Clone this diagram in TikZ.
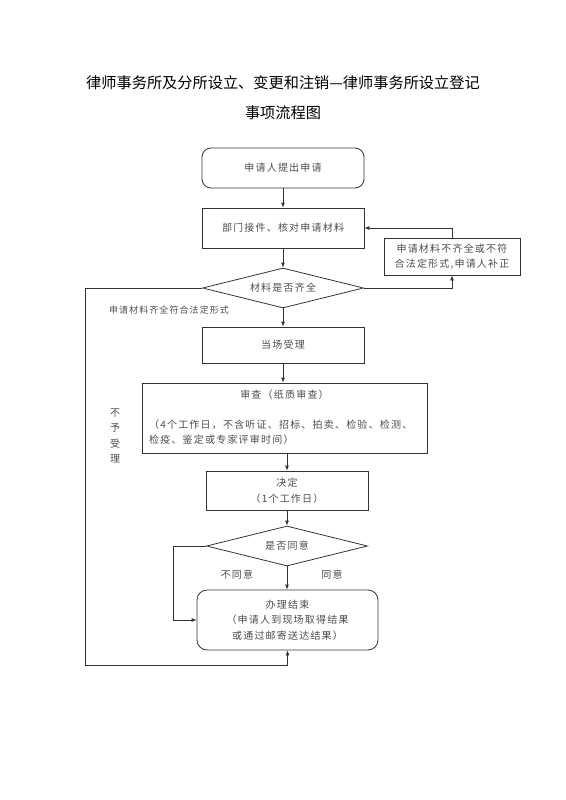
\documentclass[tikz,border=0pt]{standalone}
\usepackage{fontspec}
\setmainfont{Noto Sans CJK SC}
\newfontfamily\cjkbox[LetterSpace=12]{Noto Sans CJK SC}
\usetikzlibrary{shapes.geometric, arrows.meta, positioning}

\begin{document}
\begin{tikzpicture}[
    x=1pt, y=-1pt,
    every node/.style={font=\cjkbox\fontsize{10pt}{15.5pt}\selectfont, text=black!70},
    stepbox/.style={rectangle, draw=black!80, line width=0.8pt, minimum width=162pt, minimum height=40pt, align=center},
    termbox/.style={stepbox, rounded corners=9pt},
    decision/.style={diamond, draw=black!80, line width=0.8pt, aspect=4, inner sep=0pt, minimum width=161pt, minimum height=40pt, align=center},
    arrow/.style={-{Latex[length=5pt,width=4pt]}, line width=0.8pt, black!80},
    titletext/.style={font=\fontsize{15.2pt}{20pt}\selectfont, text=black}
]
\useasboundingbox (0,0) rectangle (565,800);

% Title
\node (t1) [titletext] at (283,83) {律师事务所及分所设立、变更和注销—律师事务所设立登记};
\node (t2) [titletext] at (283,113) {事项流程图};

% Main flow
\node (apply) [termbox] at (283,168) {申请人提出申请};
\node (check) [stepbox, below=19.2pt of apply] {部门接件、核对申请材料};
\node (full) [decision, below=19.2pt of check] {材料是否齐全};
\node (accept) [stepbox, minimum height=36pt, below=18.2pt of full] {当场受理};
\node (review) [stepbox, minimum width=285pt, minimum height=70pt, below=19.2pt of accept, xshift=1.5pt] {};
\node (reviewa) at ([yshift=-12pt]review.north) {审查（纸质审查）};
\node (reviewb) [align=left, anchor=west] at ([xshift=4pt, yshift=-49.5pt]review.north west) {（4个工作日，不含听证、招标、拍卖、检验、检测、\\检疫、鉴定或专家评审时间）};
\node (decide) [stepbox, minimum height=39pt, below=17.2pt of review, xshift=2.5pt] {决定\\（1个工作日）};
\node (agree) [decision, below=15.2pt of decide] {是否同意};
\node (finish) [termbox, minimum width=181pt, minimum height=60pt, rounded corners=10pt, below=23.2pt of agree, xshift=0.5pt] {办理结束\\（申请人到现场取得结果\\或通过邮寄送达结果）};

% Supplement box
\node (supply) [stepbox, minimum width=136pt, minimum height=37pt] at (452,256.5) {申请材料不齐全或不符\\合法定形式,申请人补正};

% Labels
\node (okl) [font=\cjkbox\fontsize{9pt}{12pt}\selectfont] at (169,310) {申请材料齐全符合法定形式};
\node (rejl) [align=center] at (115,436) {不\\予\\受\\理};
\node (nol) at (237,575) {不同意};
\node (yesl) at (332,575) {同意};
\coordinate (rejc) at (85,665);
\coordinate (noc) at (173,0);

% Arrows
\draw [arrow] (apply) -- (check);
\draw [arrow] (check) -- (full);
\draw [arrow] (full) -- (accept);
\draw [arrow] (accept.south) -- (accept.south |- review.north);
\draw [arrow] (review.south -| decide) -- (decide);
\draw [arrow] (decide) -- (agree);
\draw [arrow] (agree.south) -- (agree.south |- finish.north);
\draw [arrow] (full.east) -| (supply.south);
\draw [arrow] (supply.north) |- (check.east);
\draw [arrow] (full.west) -| (rejc) -| (finish.south);
\draw [arrow] (agree.west) -| (noc |- finish.west) -- (finish.west);

\end{tikzpicture}
\end{document}
